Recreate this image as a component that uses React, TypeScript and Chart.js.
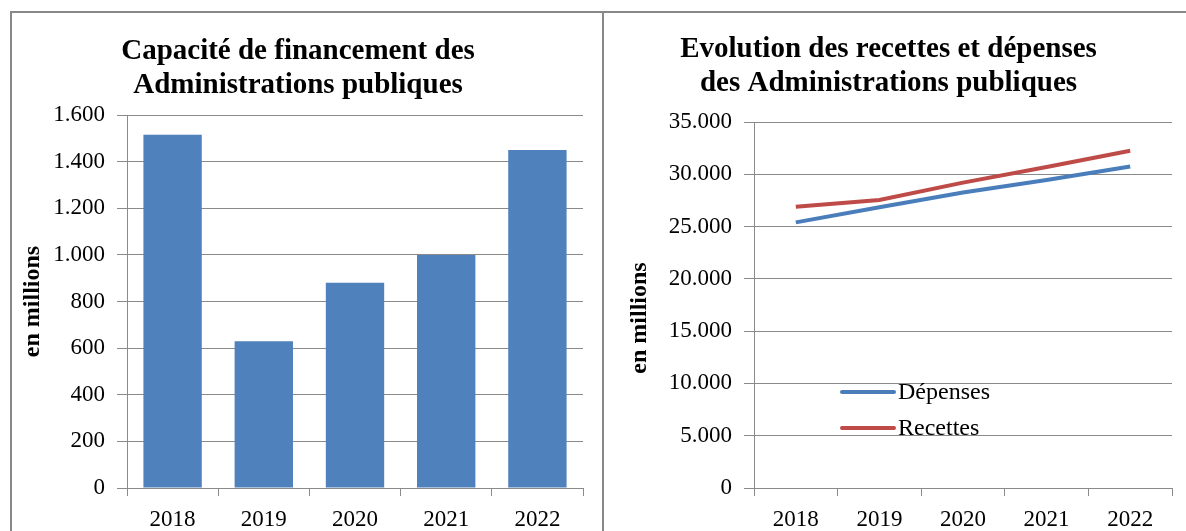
import React, { useEffect, useRef } from "react";
import { Chart, registerables } from "chart.js";

Chart.register(...registerables);

// ---------- data ----------
const years = ["2018", "2019", "2020", "2021", "2022"];
const capacite = [1515, 630, 880, 1000, 1450];
const depenses = [25400, 26850, 28250, 29450, 30750];
const recettes = [26900, 27550, 29200, 30700, 32250];
const leftTitle = ["Capacité de financement des", "Administrations publiques"];
const rightTitle = ["Evolution des recettes et dépenses", "des Administrations publiques"];
const yAxisTitle = "en millions";
const seriesLabels = ["Dépenses", "Recettes"];

// ---------- styles ----------
const FONT = "'Liberation Serif', 'Times New Roman', serif";
const GRID = "#8a8a8a";
const BAR = "#4F81BD";
const BLUE = "#4A7EBB";
const RED = "#BE4B48";

const fmt = (v: number) => String(v).replace(/\B(?=(\d{3})+(?!\d))/g, ".");

const inlineLegend = {
  id: "inlineLegend",
  afterDraw(chart: any) {
    const o = chart.options.plugins.inlineLegend;
    if (!o) return;
    const { ctx, chartArea } = chart;
    ctx.save();
    ctx.font = `24px ${FONT}`;
    ctx.textBaseline = "middle";
    ctx.fillStyle = "#000";
    chart.data.datasets.forEach((ds: any, i: number) => {
      const x = chartArea.left + o.left;
      const y = chartArea.top + o.top + i * o.rowGap;
      ctx.strokeStyle = ds.borderColor;
      ctx.lineWidth = 4;
      ctx.lineCap = "round";
      ctx.beginPath();
      ctx.moveTo(x, y);
      ctx.lineTo(x + o.lineLen, y);
      ctx.stroke();
      ctx.fillText(ds.label, x + o.lineLen + 4, y + 1);
    });
    ctx.restore();
  },
};

// y-axis title drawn with a vertical offset from the plot centre
const offsetAxisTitle = {
  id: "offsetAxisTitle",
  afterDraw(chart: any) {
    const o = chart.options.plugins.offsetAxisTitle;
    if (!o) return;
    const { ctx, chartArea } = chart;
    ctx.save();
    ctx.font = `bold 24px ${FONT}`;
    ctx.textAlign = "center";
    ctx.textBaseline = "middle";
    ctx.fillStyle = "#000";
    ctx.translate(o.x, (chartArea.top + chartArea.bottom) / 2 + o.dy);
    ctx.rotate(-Math.PI / 2);
    ctx.fillText(o.text, 0, 0);
    ctx.restore();
  },
};

const tickFont = { family: FONT, size: 23 };
const titleFont = { family: FONT, size: 29, weight: "bold" as const, lineHeight: 34 / 29 };
const axisTitleFont = { family: FONT, size: 24, weight: "bold" as const };

function xScale() {
  return {
    grid: { display: true, drawOnChartArea: false, drawTicks: true, tickLength: 8, color: GRID, offset: true },
    border: { color: GRID, width: 1 },
    ticks: { font: tickFont, color: "#000", padding: 10 },
    afterFit: (s: any) => {
      s.height = 43;
    },
  };
}

function yScale(max: number, step: number, width: number, showTitle: boolean) {
  return {
    min: 0,
    max,
    ticks: { stepSize: step, callback: (v: any) => fmt(Number(v)), font: tickFont, color: "#000", padding: 12 },
    grid: { color: GRID, tickLength: 10, lineWidth: 1 },
    border: { color: GRID, width: 1 },
    title: { display: showTitle, text: yAxisTitle, font: axisTitleFont, color: "#000", padding: { top: 5, bottom: 0 } },
    afterFit: (s: any) => {
      s.width = width;
    },
  };
}

function leftConfig(): any {
  return {
    type: "bar",
    data: {
      labels: years,
      datasets: [
        {
          label: "Capacité de financement",
          data: capacite,
          backgroundColor: BAR,
          borderWidth: 0,
          barPercentage: 0.64,
          categoryPercentage: 1,
        },
      ],
    },
    options: {
      animation: false,
      responsive: true,
      maintainAspectRatio: false,
      layout: { padding: { left: 0, right: 19, top: 0, bottom: 0 } },
      plugins: {
        legend: { display: false },
        tooltip: { enabled: false },
        title: { display: true, text: leftTitle, font: titleFont, color: "#000", padding: { top: 21, bottom: 12 } },
      },
      scales: {
        x: xScale(),
        y: yScale(1600, 200, 114, true),
      },
    },
  };
}

function rightConfig(): any {
  return {
    type: "line",
    data: {
      labels: years,
      datasets: [
        { label: seriesLabels[0], data: depenses, borderColor: BLUE, backgroundColor: BLUE, borderWidth: 4, pointRadius: 0, tension: 0 },
        { label: seriesLabels[1], data: recettes, borderColor: RED, backgroundColor: RED, borderWidth: 4, pointRadius: 0, tension: 0 },
      ],
    },
    plugins: [inlineLegend, offsetAxisTitle],
    options: {
      animation: false,
      responsive: true,
      maintainAspectRatio: false,
      layout: { padding: { left: 0, right: 14, top: 0, bottom: 0 } },
      plugins: {
        legend: { display: false },
        tooltip: { enabled: false },
        title: { display: true, text: rightTitle, font: titleFont, color: "#000", padding: { top: 19, bottom: 21 } },
        inlineLegend: { left: 88, top: 270, rowGap: 36, lineLen: 52 },
        offsetAxisTitle: { text: yAxisTitle, x: 35, dy: 13 },
      },
      scales: {
        x: { ...xScale(), offset: true },
        y: yScale(35000, 5000, 149, false),
      },
    },
  };
}

function ChartBox({ config, style }: { config: () => any; style: React.CSSProperties }) {
  const ref = useRef<HTMLCanvasElement>(null);
  useEffect(() => {
    const chart = new Chart(ref.current as HTMLCanvasElement, config());
    return () => chart.destroy();
  }, []);
  return (
    <div style={{ position: "absolute", ...style }}>
      <canvas ref={ref} />
    </div>
  );
}

export default function App() {
  return (
    <div style={{ position: "fixed", left: 0, top: 0, width: 1186, height: 531, background: "#fff", overflow: "hidden" }}>
      <div
        style={{
          position: "absolute",
          left: 10,
          top: 11,
          width: 1200,
          height: 600,
          border: "2px solid #888",
          boxSizing: "border-box",
        }}
      />
      <div style={{ position: "absolute", left: 602, top: 11, width: 2, height: 600, background: "#888" }} />
      <ChartBox config={leftConfig} style={{ left: 13, top: 14, width: 589, height: 517 }} />
      <ChartBox config={rightConfig} style={{ left: 605, top: 14, width: 581, height: 517 }} />
    </div>
  );
}
